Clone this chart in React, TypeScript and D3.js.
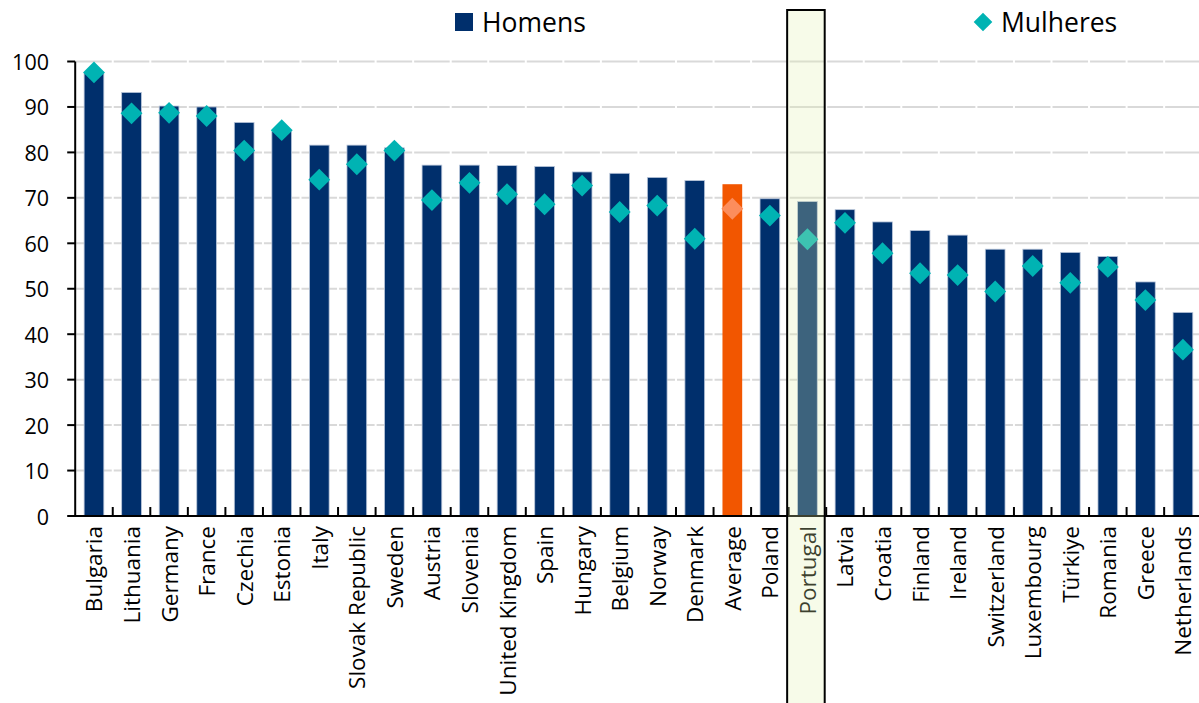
import React from "react";
import * as d3 from "d3";

const categories = [
  "Bulgaria", "Lithuania", "Germany", "France", "Czechia", "Estonia", "Italy",
  "Slovak Republic", "Sweden", "Austria", "Slovenia", "United Kingdom", "Spain",
  "Hungary", "Belgium", "Norway", "Denmark", "Average", "Poland", "Portugal",
  "Latvia", "Croatia", "Finland", "Ireland", "Switzerland", "Luxembourg",
  "Türkiye", "Romania", "Greece", "Netherlands",
];
const men = [
  97.5, 93.2, 90.2, 90.0, 86.6, 84.6, 81.6, 81.6, 81.0, 77.2, 77.2, 77.1, 76.9,
  75.7, 75.4, 74.5, 73.8, 73.0, 69.8, 69.2, 67.4, 64.7, 62.8, 61.8, 58.7, 58.7,
  58.0, 57.1, 51.5, 44.8,
];
const women = [
  97.6, 88.6, 88.7, 88.0, 80.4, 84.9, 74.0, 77.4, 80.4, 69.5, 73.3, 70.8, 68.6,
  72.7, 66.9, 68.3, 61.0, 67.6, 66.1, 60.9, 64.5, 57.8, 53.4, 53.0, 49.4, 55.0,
  51.3, 54.8, 47.5, 36.6,
];
const yTicks = [0, 10, 20, 30, 40, 50, 60, 70, 80, 90, 100];
const legendLabels = ["Homens", "Mulheres"];
const averageLabel = "Average";
const highlightLabel = "Portugal";

const W = 1199;
const H = 703;
const left = 75.2;
const plotRight = left + 30 * 37.55;
const top = 61.5;
const bottom = 516;

const NAVY = "#002F6C";
const ORANGE = "#F25600";
const TEAL = "#00B3B3";
const FONT = "'Open Sans', sans-serif";

export default function App() {
  const x = d3.scaleBand<string>().domain(categories).range([left, plotRight]).padding(0);
  const y = d3.scaleLinear().domain([0, 100]).range([bottom, top]);
  const bw = x.step() * 0.525;
  const step = x.step();
  const diamond = d3.symbol().type(d3.symbolDiamond2).size(305)();
  const legendDiamond = d3.symbol().type(d3.symbolDiamond2).size(222)();
  const px = x(highlightLabel)!;

  return (
    <div style={{ position: "fixed", left: 0, top: 0 }}>
      <svg width={W} height={H} style={{ display: "block", background: "#fff" }}>
        {/* gridlines, broken at each band boundary */}
        {yTicks.filter((t) => t > 0).map((t) => (
          <g key={"g" + t}>
            {categories.map((c) => (
              <line key={c} x1={x(c)! + 1} x2={x(c)! + step - 1} y1={y(t)} y2={y(t)}
                stroke="#D9D9D9" strokeWidth={2} />
            ))}
          </g>
        ))}
        {/* bars */}
        {categories.map((c, i) => (
          <rect key={"b" + c} x={x(c)! + (step - bw) / 2} y={y(men[i])} width={bw}
            height={y(0) - y(men[i])}
            fill={c === averageLabel ? ORANGE : NAVY}
            stroke={c === averageLabel ? "none" : "#B9C6DA"} strokeWidth={0.8} />
        ))}
        {/* women markers */}
        {categories.map((c, i) => (
          <path key={"d" + c} d={diamond!}
            transform={`translate(${x(c)! + step / 2},${y(women[i])})`}
            fill={c === averageLabel ? "#FC8D5C" : TEAL} />
        ))}
        {/* y axis */}
        <line x1={left} x2={left} y1={top} y2={bottom} stroke="#000" strokeWidth={2} />
        {yTicks.map((t) => (
          <g key={"t" + t}>
            <line x1={left - 8} x2={left} y1={y(t)} y2={y(t)} stroke="#000" strokeWidth={2} />
            <text x={49} y={y(t)} textAnchor="end" dominantBaseline="central"
              fontFamily={FONT} fontSize={21.5} fill="#000">{t}</text>
          </g>
        ))}
        {/* x axis */}
        <line x1={left - 1} x2={W} y1={bottom} y2={bottom} stroke="#000" strokeWidth={2} />
        {categories.map((c) => (
          <line key={"xt" + c} x1={x(c)! + step} x2={x(c)! + step} y1={bottom} y2={bottom - 9}
            stroke="#000" strokeWidth={2} />
        ))}
        {categories.map((c) => (
          <text key={"l" + c} transform={`translate(${x(c)! + step / 2},${bottom + 10}) rotate(-90)`}
            textAnchor="end" dominantBaseline="central" fontFamily={FONT} fontSize={22.5} fill="#000">
            {c}
          </text>
        ))}
        {/* Portugal highlight box */}
        <rect x={px - 1.5} y={10} width={step} height={H} fill="#E3EFAF" fillOpacity={0.27}
          stroke="none" />
        <rect x={px - 1.5} y={10} width={step} height={H + 10} fill="none" stroke="#000" strokeWidth={2} />
        {/* legend */}
        <rect x={455} y={13} width={18} height={18} fill={NAVY} />
        <text x={482} y={22} dominantBaseline="central" fontFamily={FONT} fontSize={26.5} fill="#000">
          {legendLabels[0]}
        </text>
        <path d={legendDiamond!} transform="translate(983,22)" fill={TEAL} />
        <text x={1001} y={22} dominantBaseline="central" fontFamily={FONT} fontSize={26.5} fill="#000">
          {legendLabels[1]}
        </text>
      </svg>
    </div>
  );
}
